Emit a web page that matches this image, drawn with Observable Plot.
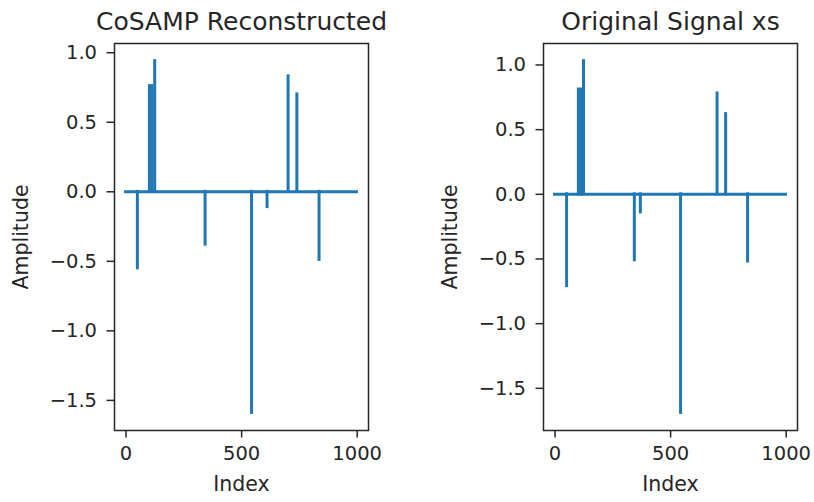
<!DOCTYPE html>
<html><head><meta charset="utf-8">
<script src="https://cdn.jsdelivr.net/npm/d3@7"></script>
<script src="https://cdn.jsdelivr.net/npm/@observablehq/plot@0.6"></script>
<style>
body{margin:0;background:#fff;}
#wrap{display:flex;width:814px;height:502px;}
</style></head><body><div id="wrap"></div>
<script>
// signal length and tick labels
const n = 1000;
const xTicks = [0, 500, 1000];
const yTicks = [-1.5, -1.0, -0.5, 0.0, 0.5, 1.0];
const titles = ["CoSAMP Reconstructed", "Original Signal xs"];
const xLabel = "Index";
const yLabel = "Amplitude";

// CoSAMP reconstructed: nonzero indices and amplitudes
const recIdx = [49, 101, 112, 124, 342, 543, 610, 701, 739, 835];
const recVal = [-0.55, 0.76, 0.76, 0.94, -0.38, -1.59, -0.11, 0.83, 0.70, -0.49];

// Original signal xs: nonzero indices and amplitudes
const origIdx = [50, 101, 112, 123, 343, 369, 543, 701, 738, 833];
const origVal = [-0.71, 0.81, 0.81, 1.03, -0.51, -0.14, -1.69, 0.78, 0.62, -0.52];

const BLUE = "#1f77b4", INK = "#262626";
function pad(ext) { const r = ext[1] - ext[0]; return [ext[0] - 0.05 * r, ext[1] + 0.05 * r]; }

function panel(idx, val, title, width, ml, mr) {
  const spikes = idx.map((i, k) => ({i, v: val[k]}));
  return Plot.plot({
    width, height: 502, marginLeft: ml, marginRight: mr, marginTop: 43, marginBottom: 72,
    style: {fontFamily: "DejaVu Sans", fontSize: "19.5px", color: INK, background: "white", overflow: "visible"},
    x: {domain: pad([0, n - 1])},
    y: {domain: pad(d3.extent([0, ...val]))},
    marks: [
      Plot.ruleY([0], {x1: 0, x2: n - 1, stroke: BLUE, strokeWidth: 3, strokeLinecap: "square"}),
      Plot.ruleX(spikes, {x: "i", y1: 0, y2: "v", stroke: BLUE, strokeWidth: 3, strokeLinecap: "square"}),
      Plot.frame({stroke: INK, strokeWidth: 1.5}),
      Plot.axisX({ticks: xTicks, tickFormat: d3.format("d"), tickSize: 7.5, tickPadding: 8.5, strokeWidth: 1.5, label: null, fontSize: 19.5}),
      Plot.axisY({ticks: yTicks, tickFormat: d3.format(".1f"), tickSize: 7.5, tickPadding: 10, strokeWidth: 1.5, label: null, fontSize: 19.5}),
      Plot.text([title], {text: d => d, frameAnchor: "top", dy: -14, lineAnchor: "bottom", fontSize: 25, fill: INK}),
      Plot.text([yLabel], {text: d => d, frameAnchor: "left", textAnchor: "middle", rotate: -90, dx: -86.5, lineAnchor: "bottom", fontSize: 20.5, fill: INK}),
      Plot.text([xLabel], {text: d => d, frameAnchor: "bottom", textAnchor: "middle", dy: 60.5, lineAnchor: "bottom", fontSize: 20.5, fill: INK})
    ]
  });
}

const wrap = document.getElementById("wrap");
wrap.append(panel(recIdx, recVal, titles[0], 407, 114, 39));
wrap.append(panel(origIdx, origVal, titles[1], 407, 136, 17));
</script></body></html>
